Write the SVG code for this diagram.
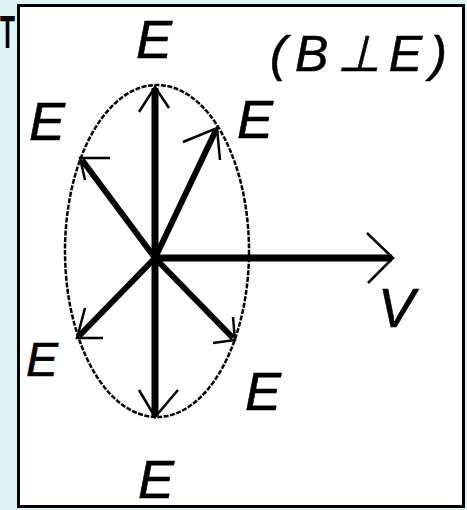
<svg xmlns="http://www.w3.org/2000/svg" width="467" height="510" viewBox="0 0 467 510">
<style>
.lbl{font-family:"Liberation Sans",Arial,sans-serif;font-style:italic;fill:#000;stroke:#000;stroke-width:0.6}
.shaft{stroke:#000;stroke-width:7;fill:none;stroke-linecap:butt}
.diag{stroke:#000;stroke-width:6;fill:none;stroke-linecap:butt}
.head{stroke:#000;stroke-width:2.5;fill:none}
.ell{stroke:#000;stroke-width:2.5;fill:none;stroke-dasharray:5 1.5}
</style>
<rect x="0" y="0" width="467" height="510" fill="#dcf4f2"/>
<text x="0" y="48" font-family="Liberation Sans,Arial,sans-serif" font-size="46" font-weight="bold" textLength="15" lengthAdjust="spacingAndGlyphs" fill="#000">T</text>
<g id="frame"><rect x="18.5" y="5.5" width="445" height="501" fill="#fff" stroke="#000" stroke-width="3"/></g>
<g id="ellipse"><ellipse class="ell" cx="157" cy="251" rx="92" ry="166"/></g>
<g id="connectors">
<path class="shaft" d="M155 258 L155 88"/>
<path class="shaft" d="M155 258 L155 416"/>
<path class="diag" d="M155 258 L82 160"/>
<path class="diag" d="M155 258 L216 130"/>
<path class="diag" d="M155 258 L79 336"/>
<path class="diag" d="M155 258 L233 338"/>
<path class="shaft" d="M155 258 L392 258"/>
<path class="head" d="M139 112 L155 87 L169 108"/>
<path class="head" d="M139 390 L155 417 L178 390"/>
<path class="head" d="M110 158 L80 158 L85 180"/>
<path class="head" d="M183 142 L217 128 L220 160"/>
<path class="head" d="M85 308 L77 338 L103 338"/>
<path class="head" d="M213 343 L235 340 L233 317"/>
<path class="head" d="M367 233 L393 258 L368 283"/>
</g>
<g id="label-E-top"><text class="lbl" x="136" y="58" font-size="54">E</text></g>
<g id="label-E-left"><text class="lbl" x="29" y="140" font-size="54">E</text></g>
<g id="label-E-right"><text class="lbl" x="237" y="138" font-size="54">E</text></g>
<g id="label-E-lowleft"><text class="lbl" x="26" y="376" font-size="48">E</text></g>
<g id="label-E-lowright"><text class="lbl" x="245" y="410" font-size="54">E</text></g>
<g id="label-E-bottom"><text class="lbl" x="138" y="498" font-size="54">E</text></g>
<g id="label-V"><text class="lbl" x="378" y="327" font-size="55">V</text></g>
<g id="label-BE"><text class="lbl" x="270" y="71" font-size="50" textLength="177" lengthAdjust="spacing">(B⊥E)</text></g>
</svg>
